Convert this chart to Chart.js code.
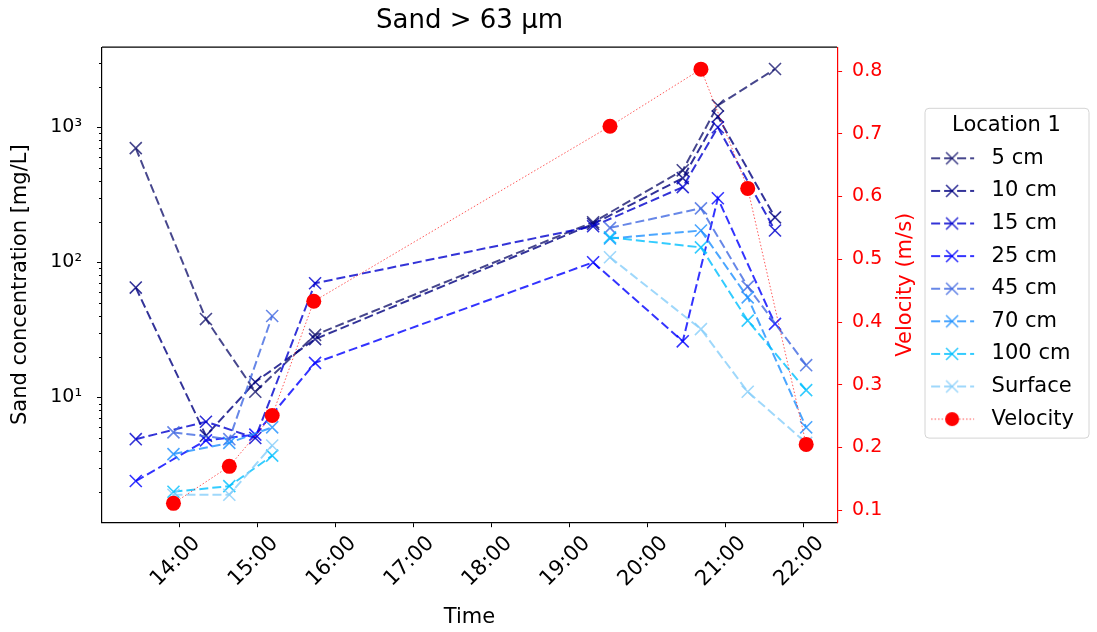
<!DOCTYPE html>
<html>
<head>
<meta charset="utf-8">
<script src="https://cdn.jsdelivr.net/npm/chart.js@4.4.1/dist/chart.umd.min.js"></script>
<style>
  html, body { margin: 0; padding: 0; background: #fff; }
  #wrap { width: 1097px; height: 632px; }
</style>
</head>
<body>
<div id="wrap"><canvas id="chart"></canvas></div>
<script>
// sample times (HH:MM) of the near-bed bottles, the upper bottles and the velocity readings
const lowerTimes = ['13:26', '14:20', '14:58', '15:44', '19:18', '20:27', '20:54', '21:38'];
const upperTimes = ['13:55', '14:38', '15:11', '15:44', '19:31', '20:41', '21:17', '22:02'];
const velocityTimes = ['13:55', '14:38', '15:11', '15:43', '19:31', '20:41', '21:17', '22:02'];

// sand concentration [mg/L]; null = no sample
const sand5 = [700, 38, 11, 29, 198, 480, 1450, 2700];
const sand10 = [65, 5.2, 13, 27, 192, 420, 1200, 215];
const sand15 = [4.9, 6.6, 5.0, 70, 185, 360, 1000, 172];
const sand25 = [2.4, 4.8, 5.3, 18, 100, 26, 298, 35];
const sand45 = [5.5, 4.9, 40, null, 180, 251, 66, 17.3];
const sand70 = [3.8, 4.6, 6.0, null, 150, 172, 55, 6.0];
const sand100 = [2.0, 2.2, 3.7, null, 153, 129, 37, 11.3];
const sandSurface = [1.9, 1.9, 4.4, null, 109, 32, 11, 4.6];

// velocity (m/s)
const velocity = [0.111, 0.170, 0.251, 0.433, 0.712, 0.803, 0.613, 0.205];

const hourTicks = [14, 15, 16, 17, 18, 19, 20, 21, 22];
const concTicks = [10, 100, 1000];
const velocityTicks = [0.1, 0.2, 0.3, 0.4, 0.5, 0.6, 0.7, 0.8];

const FONT = 'DejaVu Sans';
const tickFs = 19;
const xTickFs = 21;
const labelFs = 21;
const legendFs = 21;

function toHours(s) {
    const [h, m] = s.split(':').map(Number);
    return h + m / 60;
}

function pts(times, vals) {
    return times.map((t, i) => ({ x: toHours(t), y: vals[i] }));
}

// picture for a legend entry: the line with its marker on it
function legendIcon(color, dotted, circle) {
    const c = document.createElement('canvas');
    c.width = 57; c.height = 16;
    const g = c.getContext('2d');
    g.strokeStyle = color;
    g.lineWidth = dotted ? 1 : 2;
    g.setLineDash(dotted ? [1.5, 2] : [9, 4]);
    g.beginPath(); g.moveTo(1, 8); g.lineTo(44, 8); g.stroke();
    g.setLineDash([]);
    if (circle) {
        g.fillStyle = 'red';
        g.beginPath(); g.arc(22, 8, 7, 0, Math.PI * 2); g.fill();
    } else {
        g.lineWidth = 1.6;
        g.beginPath();
        g.moveTo(16, 2); g.lineTo(28, 14);
        g.moveTo(28, 2); g.lineTo(16, 14);
        g.stroke();
    }
    return c;
}

const series = [
    { label: '5 cm', times: lowerTimes, vals: sand5, color: 'rgba(25,25,112,0.8)' },
    { label: '10 cm', times: lowerTimes, vals: sand10, color: 'rgba(0,0,128,0.8)' },
    { label: '15 cm', times: lowerTimes, vals: sand15, color: 'rgba(0,0,205,0.8)' },
    { label: '25 cm', times: lowerTimes, vals: sand25, color: 'rgba(0,0,255,0.8)' },
    { label: '45 cm', times: upperTimes, vals: sand45, color: 'rgba(65,105,225,0.8)' },
    { label: '70 cm', times: upperTimes, vals: sand70, color: 'rgba(30,144,255,0.8)' },
    { label: '100 cm', times: upperTimes, vals: sand100, color: 'rgba(0,191,255,0.8)' },
    { label: 'Surface', times: upperTimes, vals: sandSurface, color: 'rgba(135,206,250,0.8)' }
];

const datasets = series.map((s, i) => ({
    label: s.label,
    data: pts(s.times, s.vals),
    yAxisID: 'y',
    borderColor: s.color,
    backgroundColor: s.color,
    borderWidth: 2,
    borderDash: [9, 4],
    pointStyle: 'crossRot',
    pointRadius: 8.5,
    pointBorderWidth: 1.6,
    pointHoverRadius: 8.5,
    spanGaps: false,
    order: series.length - i,
    icon: legendIcon(s.color, false, false)
}));

datasets.push({
    label: 'Velocity',
    data: pts(velocityTimes, velocity),
    yAxisID: 'y1',
    borderColor: 'rgba(255,0,0,0.65)',
    backgroundColor: 'red',
    borderWidth: 1,
    borderDash: [1.5, 2],
    pointStyle: 'circle',
    pointRadius: 7.5,
    pointBorderWidth: 0,
    pointHoverRadius: 7.5,
    order: 0,
    icon: legendIcon('rgba(255,0,0,0.7)', true, true)
});

// top spine, minor log ticks, right axis label, legend frame and title
const extras = {
    id: 'extras',
    afterDraw(chart) {
        const ctx = chart.ctx;
        const a = chart.chartArea;
        const y = chart.scales.y;
        ctx.save();
        ctx.strokeStyle = '#000';
        ctx.lineWidth = 1.2;
        ctx.beginPath();
        ctx.moveTo(a.left, a.top); ctx.lineTo(a.right, a.top);
        ctx.stroke();
        ctx.lineWidth = 1;
        for (let d = 1; d <= 1000; d *= 10) {
            for (let k = 2; k <= 9; k++) {
                const v = k * d;
                if (v < y.min || v > y.max) continue;
                const py = Math.round(y.getPixelForValue(v)) + 0.5;
                ctx.beginPath();
                ctx.moveTo(a.left - 3, py); ctx.lineTo(a.left, py);
                ctx.stroke();
            }
        }
        const r = chart.scales.y1;
        ctx.fillStyle = 'red';
        ctx.font = labelFs + 'px "' + FONT + '"';
        ctx.textAlign = 'center';
        ctx.textBaseline = 'middle';
        ctx.translate(r.right - 19, (a.top + a.bottom) / 2);
        ctx.rotate(-Math.PI / 2);
        ctx.fillText('Velocity (m/s)', 0, 0);
        ctx.restore();

        const L = chart.legend;
        const hb = L.legendHitBoxes;
        const top = hb[0].top - 40;
        const bottom = hb[hb.length - 1].top + hb[hb.length - 1].height + 8;
        const left = L.left;
        const w = 164;
        ctx.save();
        ctx.strokeStyle = '#d4d4d4';
        ctx.lineWidth = 1;
        ctx.beginPath();
        ctx.roundRect(left + 0.5, top + 0.5, w, bottom - top, 4);
        ctx.stroke();
        ctx.fillStyle = '#000';
        ctx.font = legendFs + 'px "' + FONT + '"';
        ctx.textAlign = 'center';
        ctx.textBaseline = 'middle';
        ctx.fillText('Location 1', left + w / 2, top + 18);
        ctx.restore();
    }
};

new Chart(document.getElementById('chart'), {
    type: 'line',
    data: { datasets: datasets },
    plugins: [extras],
    options: {
        responsive: true,
        maintainAspectRatio: false,
        animation: false,
        layout: { padding: { left: 0, right: 13, top: 0, bottom: 0 } },
        plugins: {
            tooltip: { enabled: false },
            title: {
                display: true,
                text: 'Sand > 63 µm',
                fullSize: false,
                color: '#000',
                font: { family: FONT, size: 26, weight: 'normal' },
                padding: { top: 6, bottom: 10 }
            },
            legend: {
                position: 'right',
                align: 'start',
                title: {
                    display: true,
                    text: 'Location 1',
                    color: 'rgba(0,0,0,0)',
                    font: { family: FONT, size: legendFs },
                    padding: { top: 111, bottom: 0 }
                },
                labels: {
                    color: '#000',
                    font: { family: FONT, size: legendFs },
                    usePointStyle: true,
                    pointStyleWidth: 45,
                    padding: 11.6,
                    generateLabels: chart => chart.data.datasets.map((ds, i) => ({
                        text: ds.label,
                        pointStyle: ds.icon,
                        datasetIndex: i,
                        fontColor: '#000',
                        lineWidth: 0,
                        hidden: false
                    }))
                }
            }
        },
        scales: {
            x: {
                type: 'linear',
                min: 13.0,
                max: 22.43,
                afterBuildTicks: s => { s.ticks = hourTicks.map(v => ({ value: v })); },
                ticks: {
                    callback: v => v + ':00',
                    minRotation: 45,
                    maxRotation: 45,
                    labelOffset: 17,
                    color: '#000',
                    font: { family: FONT, size: xTickFs },
                    padding: 4
                },
                grid: { drawOnChartArea: false, color: '#000', tickLength: 5 },
                border: { color: '#000', width: 1.2 },
                title: {
                    display: true,
                    text: 'Time',
                    color: '#000',
                    font: { family: FONT, size: labelFs },
                    padding: { top: 9, bottom: 2 }
                }
            },
            y: {
                type: 'logarithmic',
                position: 'left',
                min: 1.19,
                max: 3916,
                afterBuildTicks: s => { s.ticks = concTicks.map(v => ({ value: v })); },
                ticks: {
                    callback: v => ({ 1: '10¹', 2: '10²', 3: '10³' })[Math.round(Math.log10(v))],
                    color: '#000',
                    font: { family: FONT, size: tickFs },
                    padding: 15
                },
                grid: { drawOnChartArea: false, color: '#000', tickLength: 5 },
                border: { color: '#000', width: 1.2 },
                title: {
                    display: true,
                    text: 'Sand concentration [mg/L]',
                    color: '#000',
                    font: { family: FONT, size: labelFs },
                    padding: { top: 8, bottom: 2 }
                }
            },
            y1: {
                type: 'linear',
                position: 'right',
                min: 0.081,
                max: 0.838,
                afterBuildTicks: s => { s.ticks = velocityTicks.map(v => ({ value: v })); },
                ticks: {
                    callback: v => v.toFixed(1),
                    color: 'red',
                    font: { family: FONT, size: tickFs },
                    padding: 10
                },
                grid: { drawOnChartArea: false, color: 'red', tickLength: 5 },
                border: { color: 'red', width: 1.2 },
                title: {
                    display: true,
                    text: 'Velocity (m/s)',
                    color: 'rgba(0,0,0,0)',
                    font: { family: FONT, size: labelFs },
                    padding: { top: 1, bottom: 6 }
                }
            }
        }
    }
});
</script>
</body>
</html>
